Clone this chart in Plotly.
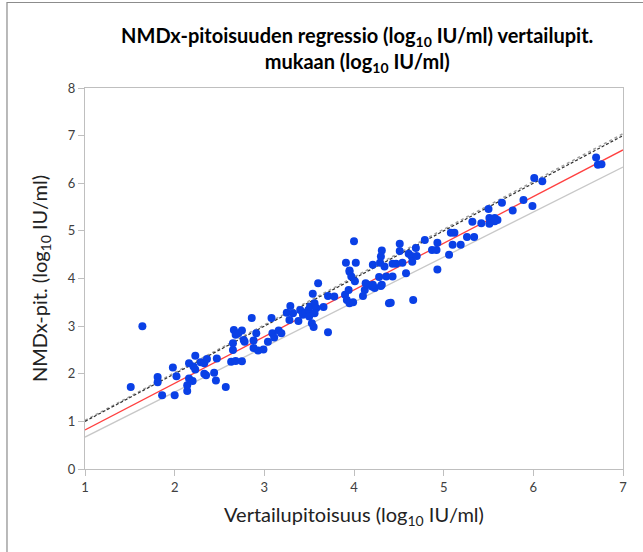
import plotly.graph_objects as go

# Scatter data (log10 IU/ml)
ref_x = [1.51, 1.64, 1.81, 1.81, 1.86, 1.98, 2.00, 2.02, 2.14, 2.14, 2.16, 2.16, 2.20, 2.23, 2.21, 2.23,
         2.29, 2.33, 2.35, 2.33, 2.36, 2.44, 2.46, 2.47, 2.57, 2.63, 2.66, 2.65, 2.65, 2.68, 2.71, 2.68,
         2.75, 2.75, 2.77, 2.78, 2.86, 2.88, 2.91, 2.88, 2.93, 2.99, 3.04, 3.08, 3.09, 3.11, 3.16, 3.19,
         3.25, 3.29, 3.32, 3.28, 3.38, 3.40, 3.43, 3.46, 3.49, 3.51, 3.50, 3.54, 3.53, 3.55, 3.56, 3.58,
         3.56, 3.60, 3.66, 3.71, 3.71, 3.78, 3.90, 3.92, 3.94, 3.95, 3.97, 4.01, 3.95, 3.99, 4.10, 4.12,
         4.15, 4.20, 4.23, 4.28, 4.31, 4.36, 4.39, 4.00, 3.91, 4.02, 3.95, 4.13, 4.21, 4.30, 4.31, 4.30,
         4.29, 4.21, 4.34, 4.41, 4.43, 4.43, 4.47, 4.51, 4.51, 4.54, 4.58, 4.61, 4.64, 4.65, 4.66, 4.69,
         4.70, 4.79, 4.87, 4.92, 4.93, 4.93, 5.06, 5.10, 5.08, 5.12, 5.19, 5.26, 5.34, 5.32, 5.42, 5.50,
         5.51, 5.51, 5.54, 5.57, 5.60, 5.57, 5.65, 5.77, 5.89, 5.99, 6.01, 6.10, 6.70, 6.72, 6.76]
nmdx_y = [1.72, 3.00, 1.93, 1.82, 1.55, 2.13, 1.55, 1.95, 1.64, 1.76, 1.90, 2.22, 1.85, 2.38, 2.15, 2.09,
          2.24, 2.00, 1.97, 2.22, 2.31, 2.02, 1.86, 2.32, 1.72, 2.25, 2.92, 2.64, 2.50, 2.82, 2.85, 2.27,
          2.26, 2.91, 2.71, 2.67, 3.17, 2.70, 2.85, 2.54, 2.49, 2.51, 2.67, 3.17, 2.85, 2.76, 2.91, 2.85,
          3.28, 3.42, 3.27, 3.13, 3.11, 3.34, 3.24, 3.28, 3.34, 3.41, 3.20, 3.68, 3.06, 2.98, 3.48, 3.38,
          3.27, 3.90, 3.40, 2.87, 3.63, 3.62, 3.66, 3.55, 3.76, 4.14, 4.04, 3.94, 3.48, 3.50, 3.63, 3.76,
          3.87, 3.83, 3.80, 4.03, 3.87, 4.04, 3.48, 4.78, 4.33, 4.33, 4.17, 3.90, 3.87, 3.84, 4.59, 4.46,
          4.33, 4.29, 4.25, 3.49, 4.31, 4.04, 4.31, 4.73, 4.58, 4.33, 4.11, 4.52, 4.47, 4.35, 3.55, 4.64,
          4.47, 4.81, 4.60, 4.60, 4.75, 4.19, 4.50, 4.71, 4.96, 4.96, 4.71, 4.87, 4.87, 5.19, 5.16, 5.46,
          5.27, 5.15, 5.23, 5.27, 5.23, 5.20, 5.59, 5.43, 5.65, 5.52, 6.11, 6.04, 6.54, 6.39, 6.40]

# Reference lines: x at start/end and the corresponding y values
line_x = [1, 7]
identity_y = [1.0, 7.0]
upper_y = [1.02, 7.04]
regression_y = [0.82, 6.70]
lower_y = [0.67, 6.34]

x_ticks = [1, 2, 3, 4, 5, 6, 7]
y_ticks = [0, 1, 2, 3, 4, 5, 6, 7, 8]

fig = go.Figure()

fig.add_trace(go.Scatter(x=line_x, y=lower_y, mode="lines",
                         line=dict(color="#c8c8c8", width=1.3), hoverinfo="skip"))
fig.add_trace(go.Scatter(x=line_x, y=regression_y, mode="lines",
                         line=dict(color="#ff4040", width=1.3), hoverinfo="skip"))
fig.add_trace(go.Scatter(x=line_x, y=upper_y, mode="lines",
                         line=dict(color="#a0a0a0", width=1.5, dash="dot"), hoverinfo="skip"))
fig.add_trace(go.Scatter(x=line_x, y=identity_y, mode="lines",
                         line=dict(color="#303030", width=1.2, dash="3px,2px"), hoverinfo="skip"))
fig.add_trace(go.Scatter(x=ref_x, y=nmdx_y, mode="markers",
                         marker=dict(color="#0a40e6", size=8, line=dict(width=0))))

axis_common = dict(showline=True, linecolor="#bfbfbf", linewidth=1.3, mirror=True,
                   ticks="outside", ticklen=6, tickcolor="#bfbfbf", showgrid=False,
                   zeroline=False, tickfont=dict(family="Lato", size=13, color="#404040"))

fig.update_layout(
    width=643, height=552,
    margin=dict(l=85, r=20, t=88, b=83),
    paper_bgcolor="white", plot_bgcolor="white",
    showlegend=False,
    title=dict(text="<b>NMDx-pitoisuuden regressio (log<sub>10</sub> IU/ml) vertailupit.<br>mukaan (log<sub>10</sub> IU/ml)</b>",
               xref="paper", x=0.506, xanchor="center", y=0.923, yanchor="middle",
               font=dict(family="Lato", size=20, color="#000000")),
    xaxis=dict(range=[1, 7], tickvals=x_ticks,
               title=dict(text="Vertailupitoisuus (log<sub>10</sub> IU/ml)", standoff=14,
                          font=dict(family="Lato", size=20, color="#222222")),
               **axis_common),
    yaxis=dict(range=[0, 8], tickvals=y_ticks,
               title=dict(text="NMDx-pit. (log<sub>10</sub> IU/ml)", standoff=14,
                          font=dict(family="Lato", size=20, color="#222222")),
               **axis_common),
)

# outer chart frame
fig.add_shape(type="rect", xref="paper", yref="paper",
              x0=-0.145, x1=1.1, y0=-0.3, y1=1.2244,
              line=dict(color="#8c8c8c", width=1.2), fillcolor="rgba(0,0,0,0)", layer="below")

fig.write_html("out.html", config={"displayModeBar": False},
               post_script="document.body.style.margin='0';")
